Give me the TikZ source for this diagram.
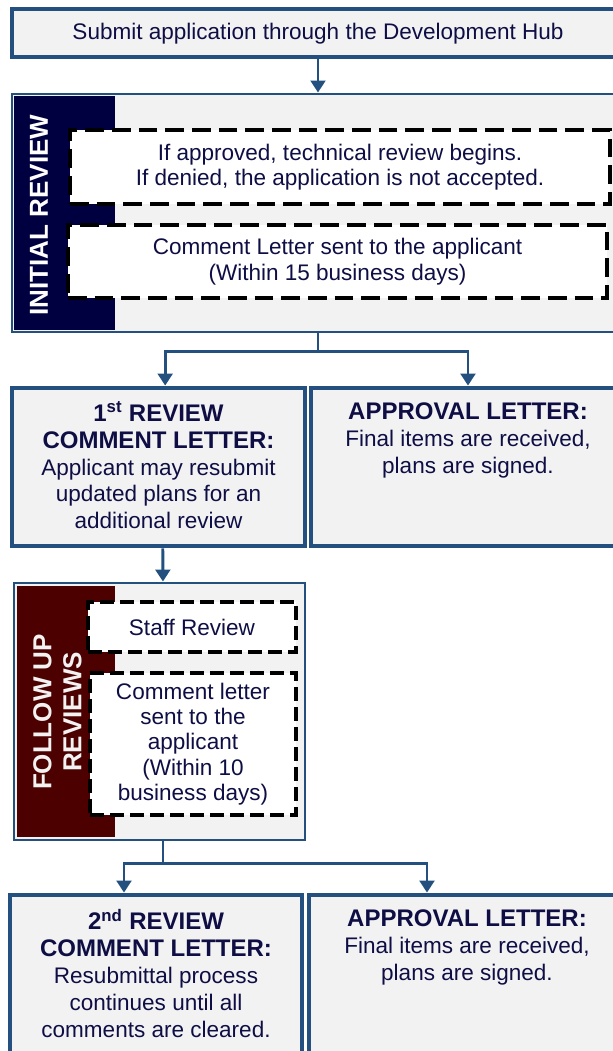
\documentclass[tikz,border=0pt]{standalone}
\usepackage{fontspec}
\setmainfont{Liberation Sans}
\usetikzlibrary{arrows.meta}

\definecolor{hubblue}{HTML}{24507F}
\definecolor{hubgrey}{HTML}{F2F2F2}
\definecolor{hubnavy}{HTML}{000040}
\definecolor{hubmaroon}{HTML}{4C0000}
\definecolor{hubtext}{HTML}{0E0E45}

\begin{document}
\begin{tikzpicture}[x=0.75pt, y=-0.75pt,
		boxsize/.style 2 args={minimum width=#1*0.75pt, minimum height=#2*0.75pt},
		stage/.style={draw=hubblue, fill=hubgrey, line width=2.2pt, inner sep=0pt},
		letter/.style={stage, line width=3.6pt},
		band/.style={fill=#1, inner sep=0pt},
		sidelabel/.style={rotate=90, align=center, inner sep=0pt, font=\fontsize{19.5}{22.5}\selectfont\bfseries},
		dashbox/.style={draw=black, fill=white, line width=2.9pt, dash pattern=on 14pt off 6pt, inner sep=0pt,
			text=hubtext, align=center, font=\fontsize{16.9}{19}\selectfont},
		txt/.style={text=hubtext, align=center, inner sep=0pt, font=\fontsize{16.9}{20.2}\selectfont},
		link/.style={draw=hubblue, line width=2.2pt, -{Triangle[width=11pt,length=9pt]}},
		]
		\useasboundingbox (0,0) rectangle (613,1051);
		% submit
		\node[stage, line width=3pt, boxsize={612}{48}, txt, yshift=-1pt] (submit) at (318,32)
			{Submit application through the Development Hub};
		% initial review
		\node[stage, boxsize={612}{238}] (initial) at (318,213) {};
		\node[band=hubnavy, boxsize={101}{234}] (initband) at (64.5,213) {};
		\node[sidelabel, text=white] (initlabel) at (39,215) {INITIAL REVIEW};
		\node[dashbox, boxsize={540}{74}] (decision) at (340,167)
			{If approved, technical review begins.\\If denied, the application is not accepted.};
		\node[dashbox, boxsize={539}{73}] (comment1) at (337.5,261.5)
			{Comment Letter sent to the applicant\\(Within 15 business days)};
		% first letters
		\node[letter, boxsize={293}{158}] (first) at (158.5,467) {};
		\node[txt, anchor=north, yshift=-12pt] (firsttxt) at (first.north)
			{{\fontsize{18}{20.2}\selectfont\bfseries 1\textsuperscript{st} REVIEW}\\
			{\fontsize{18}{20.2}\selectfont\bfseries COMMENT LETTER:}\\
			Applicant may resubmit\\updated plans for an\\additional review};
		\node[letter, boxsize={314}{158}] (appr1) at (468,467) {};
		\node[txt, anchor=north, yshift=-13pt] (appr1txt) at (appr1.north)
			{{\fontsize{18}{20.2}\selectfont\bfseries APPROVAL LETTER:}\\
			Final items are received,\\plans are signed.};
		% follow up reviews
		\node[stage, boxsize={291}{257}] (follow) at (159.5,711.5) {};
		\node[band=hubmaroon, boxsize={98}{251}] (followband) at (66,711.5) {};
		\node[sidelabel, text=hubgrey] (followlabel) at (57.5,712) {FOLLOW UP\\REVIEWS};
		\node[dashbox, dash pattern=on 10.5pt off 4.5pt, boxsize={208}{50}] (staff) at (192,627) {Staff Review};
		\node[dashbox, dash pattern=on 10.5pt off 4.5pt, boxsize={206}{142}] (comment2) at (193,744)
			{Comment letter\\sent to the\\applicant\\(Within 10\\business days)};
		% second letters
		\node[letter, boxsize={292}{170}] (second) at (156,980) {};
		\node[txt, anchor=north, yshift=-12pt] (secondtxt) at (second.north)
			{{\fontsize{18}{20.2}\selectfont\bfseries 2\textsuperscript{nd} REVIEW}\\
			{\fontsize{18}{20.2}\selectfont\bfseries COMMENT LETTER:}\\
			Resubmittal process\\continues until all\\comments are cleared.};
		\node[letter, boxsize={316}{170}] (appr2) at (467,980) {};
		\node[txt, anchor=north, yshift=-13pt] (appr2txt) at (appr2.north)
			{{\fontsize{18}{20.2}\selectfont\bfseries APPROVAL LETTER:}\\
			Final items are received,\\plans are signed.};
		% connectors
		\draw[link] (submit.south) -- (initial.north);
		\coordinate (fork1) at ([yshift=-13.5pt]initial.south);
		\draw[link, -] (initial.south) -- (fork1);
		\draw[link] (fork1) -| ([xshift=5pt]first.north);
		\draw[link] (fork1) -| (appr1.north);
		\draw[link] ([xshift=3.2pt]first.south) -- ([xshift=2.6pt]follow.north);
		\coordinate (fork2) at ([xshift=2.6pt, yshift=-16.5pt]follow.south);
		\draw[link, -] ([xshift=2.6pt]follow.south) -- (fork2);
		\draw[link] (fork2) -| ([xshift=-24pt]second.north);
		\draw[link] (fork2) -| ([xshift=-30pt]appr2.north);
\end{tikzpicture}
\end{document}
